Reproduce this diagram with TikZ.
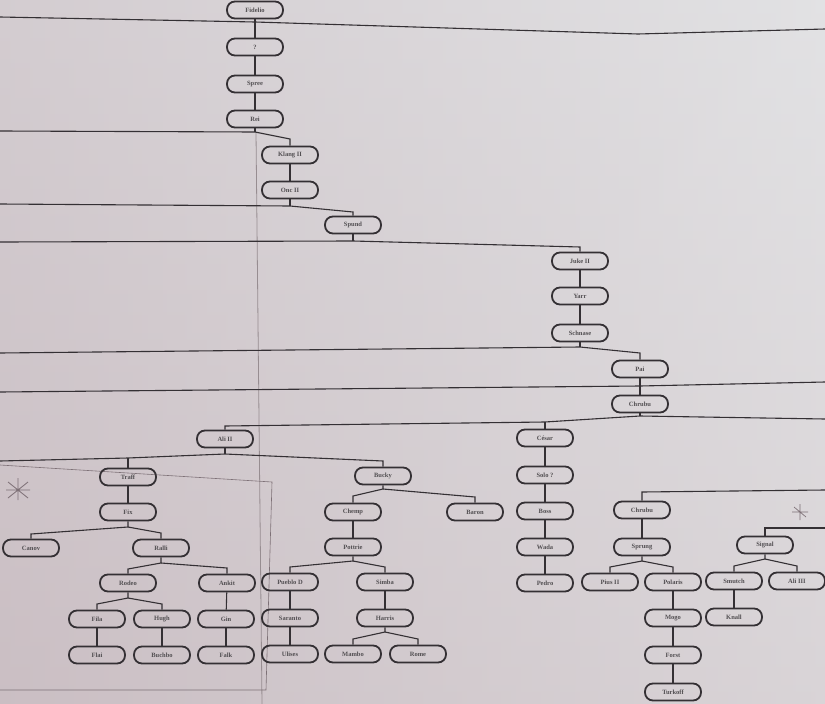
\documentclass[tikz,border=0pt]{standalone}
\usepackage{fontspec}
\setmainfont{Liberation Serif}
\definecolor{paperA}{RGB}{226,226,228}
\definecolor{paperB}{RGB}{208,198,202}
\definecolor{paperC}{RGB}{198,184,190}
\definecolor{ink}{RGB}{52,48,52}
\definecolor{pencil}{RGB}{125,112,118}
\begin{document}
\begin{tikzpicture}[x=1pt,y=-1pt,
  person/.style={draw=ink, line width=1.8pt, rounded corners=8pt, minimum width=56pt,
    minimum height=17pt, inner sep=1pt, font=\fontsize{6.5}{7}\selectfont\bfseries, text=ink!85},
  link/.style={draw=ink, line width=1.1pt},
  pencilline/.style={draw=pencil, line width=0.6pt},
]
% paper
\useasboundingbox (0,0) rectangle (825,704);
\shade[top color=paperA, bottom color=paperB] (0,0) rectangle (825,704);
\shade[left color=paperC, right color=paperA, opacity=0.5] (0,0) rectangle (825,704);
% crease line
\draw[draw=pencil!80, line width=0.8pt] (256,132) -- (262,704);
% pencil frame and marks
\draw[pencilline] (0,465) -- (272,482) -- (266,690) -- (0,690);
\draw[pencilline, line width=0.8pt] (8,482) -- (28,498) (8,498) -- (28,482) (18,478) -- (18,500) (6,490) -- (30,490);
\draw[pencilline, line width=0.7pt] (792,512) -- (808,512) (800,504) -- (800,520) (794,507) -- (806,517);

% nodes
\node[person] (fidelio) at (255,10) {Fidelio};
\node[person] (q) at (255,47) {?};
\node[person] (spree) at (255,84) {Spree};
\node[person] (rei) at (255,119) {Rei};
\node[person] (klang) at (290,155) {Klang II};
\node[person] (onc) at (290,190) {Onc II};
\node[person] (spund) at (353,225) {Spund};
\node[person] (juke) at (580,261) {Juke II};
\node[person] (yarr) at (580,296) {Yarr};
\node[person] (schnase) at (580,333) {Schnase};
\node[person] (pai) at (640,369) {Pai};
\node[person] (chrubu) at (640,404) {Chrubu};
\node[person] (ali) at (225,439) {Ali II};
\node[person] (cesar) at (545,438) {César};
\node[person] (traff) at (128,477) {Traff};
\node[person] (fix) at (128,512) {Fix};
\node[person] (canov) at (31,548) {Canov};
\node[person] (ralli) at (161,548) {Ralli};
\node[person] (rodeo) at (128,583) {Rodeo};
\node[person] (ankit) at (227,583) {Ankit};
\node[person] (fila) at (97,619) {Fila};
\node[person] (hugh) at (162,619) {Hugh};
\node[person] (gin) at (226,619) {Gin};
\node[person] (flai) at (97,655) {Flai};
\node[person] (buchbo) at (162,655) {Buchbo};
\node[person] (falk) at (226,655) {Falk};
\node[person] (bucky) at (383,476) {Bucky};
\node[person] (chemp) at (353,512) {Chemp};
\node[person] (baron) at (475,512) {Baron};
\node[person] (pottrie) at (353,547) {Pottrie};
\node[person] (pueblo) at (290,582) {Pueblo D};
\node[person] (simba) at (385,582) {Simba};
\node[person] (saranto) at (290,618) {Saranto};
\node[person] (harris) at (385,618) {Harris};
\node[person] (ulises) at (290,654) {Ulises};
\node[person] (mambo) at (353,654) {Mambo};
\node[person] (rome) at (418,654) {Rome};
\node[person] (solo) at (545,475) {Solo ?};
\node[person] (boss) at (545,511) {Boss};
\node[person] (wada) at (545,547) {Wada};
\node[person] (pedro) at (545,583) {Pedro};
\node[person] (chrubub) at (642,510) {Chrubu};
\node[person] (sprung) at (642,547) {Sprung};
\node[person] (pius) at (610,582) {Pius II};
\node[person] (polaris) at (673,582) {Polaris};
\node[person] (mogo) at (673,618) {Mogo};
\node[person] (forst) at (673,655) {Forst};
\node[person] (turkoff) at (673,692) {Turkoff};
\node[person] (signal) at (765,545) {Signal};
\node[person] (smutch) at (734,581) {Smutch};
\node[person] (aliiii) at (797,581) {Ali III};
\node[person] (knall) at (734,617) {Knall};

% junction coordinates on long lines
\coordinate (a0) at (0,17);
\coordinate (a1) at (255,22);
\coordinate (a2) at (638,34);
\coordinate (a3) at (825,29);
\coordinate (b0) at (0,131);
\coordinate (b1) at (255,132);
\coordinate (b2) at (290,139);
\coordinate (c0) at (0,204);
\coordinate (c1) at (290,206);
\coordinate (c2) at (353,212);
\coordinate (d0) at (0,242);
\coordinate (d1) at (353,241);
\coordinate (d2) at (580,247);
\coordinate (e0) at (0,353);
\coordinate (e1) at (580,347);
\coordinate (e2) at (640,353);
\coordinate (f0) at (0,392);
\coordinate (f1) at (640,386);
\coordinate (f2) at (825,382);
\coordinate (g0) at (225,426);
\coordinate (g1) at (545,422);
\coordinate (g2) at (640,416);
\coordinate (g3) at (825,419);
\coordinate (h0) at (0,461);
\coordinate (h1) at (128,458);
\coordinate (h2) at (225,454);
\coordinate (h3) at (383,461);
\coordinate (i1) at (642,492);
\coordinate (i2) at (825,490);
\coordinate (j1) at (765,528);
\coordinate (j2) at (825,528);

% long lines
\draw[link] (a0) -- (a1) -- (a2) -- (a3);
\draw[link] (fidelio) -- (q);
\draw[link] (q) -- (spree);
\draw[link] (spree) -- (rei);
\draw[link] (rei) -- (b1);
\draw[link] (b0) -- (b1) -- (b2) -- (klang);
\draw[link] (klang) -- (onc);
\draw[link] (onc) -- (c1);
\draw[link] (c0) -- (c1) -- (c2) -- (spund);
\draw[link] (spund) -- (d1);
\draw[link] (d0) -- (d1) -- (d2) -- (juke);
\draw[link] (juke) -- (yarr);
\draw[link] (yarr) -- (schnase);
\draw[link] (schnase) -- (e1);
\draw[link] (e0) -- (e1) -- (e2) -- (pai);
\draw[link] (f0) -- (f1) -- (f2);
\draw[link] (pai) -- (chrubu);
\draw[link] (chrubu) -- (g2);
\draw[link] (ali) -- (g0) -- (g1) -- (g2) -- (g3);
\draw[link] (cesar) -- (g1);
\draw[link] (ali) -- (h2);
\draw[link] (h0) -- (h1) -- (h2) -- (h3) -- (bucky);
\draw[link] (traff) -- (h1);
\draw[link] (chrubub) -- (i1) -- (i2);
\draw[link] (signal) -- (j1) -- (j2);

% vertical lines
\draw[link] (traff) -- (fix);
\draw[link] (ankit) -- (gin);
\draw[link] (gin) -- (falk);
\draw[link] (fila) -- (flai);
\draw[link] (hugh) -- (buchbo);
\draw[link] (chemp) -- (pottrie);
\draw[link] (pueblo) -- (saranto);
\draw[link] (saranto) -- (ulises);
\draw[link] (simba) -- (harris);
\draw[link] (cesar) -- (solo);
\draw[link] (solo) -- (boss);
\draw[link] (boss) -- (wada);
\draw[link] (wada) -- (pedro);
\draw[link] (chrubub) -- (sprung);
\draw[link] (polaris) -- (mogo);
\draw[link] (mogo) -- (forst);
\draw[link] (forst) -- (turkoff);
\draw[link] (smutch) -- (knall);

% fans
\coordinate (jfix) at (128,527);
\draw[link] (fix) -- (jfix) -- (31,534) -- (canov);
\draw[link] (jfix) -- (161,533) -- (ralli);
\coordinate (jralli) at (161,563);
\draw[link] (ralli) -- (jralli) -- (128,569) -- (rodeo);
\draw[link] (jralli) -- (227,568) -- (ankit);
\coordinate (jrodeo) at (128,598);
\draw[link] (rodeo) -- (jrodeo) -- (97,604) -- (fila);
\draw[link] (jrodeo) -- (162,604) -- (hugh);
\coordinate (jbucky) at (383,489);
\draw[link] (bucky) -- (jbucky) -- (353,496) -- (chemp);
\draw[link] (jbucky) -- (475,497) -- (baron);
\coordinate (jpott) at (353,561);
\draw[link] (pottrie) -- (jpott) -- (290,567) -- (pueblo);
\draw[link] (jpott) -- (385,567) -- (simba);
\coordinate (jharris) at (385,632);
\draw[link] (harris) -- (jharris) -- (353,639) -- (mambo);
\draw[link] (jharris) -- (418,639) -- (rome);
\coordinate (jsprung) at (642,561);
\draw[link] (sprung) -- (jsprung) -- (610,567) -- (pius);
\draw[link] (jsprung) -- (673,567) -- (polaris);
\coordinate (jsignal) at (765,559);
\draw[link] (signal) -- (jsignal) -- (734,566) -- (smutch);
\draw[link] (jsignal) -- (797,566) -- (aliiii);
\end{tikzpicture}
\end{document}
